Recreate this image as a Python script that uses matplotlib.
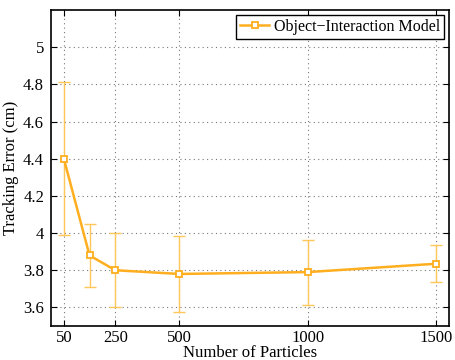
import matplotlib
matplotlib.use("Agg")
import matplotlib.pyplot as plt
from matplotlib.ticker import FuncFormatter

plt.rcParams["font.family"] = ["Liberation Serif", "DejaVu Serif"]

particles = [50, 150, 250, 500, 1000, 1500]
error_mean = [4.40, 3.88, 3.80, 3.78, 3.79, 3.835]
error_std = [0.41, 0.17, 0.20, 0.205, 0.175, 0.10]
xticks = [50, 250, 500, 1000, 1500]
yticks = [3.6, 3.8, 4.0, 4.2, 4.4, 4.6, 4.8, 5.0]

line_color = "#FFAE1F"
bar_color = "#FFC658"

fig = plt.figure(figsize=(4.55, 3.6), dpi=100)
ax = fig.add_axes([51 / 455, 34 / 360, 398 / 455, 316 / 360])

ax.errorbar(particles, error_mean, yerr=error_std, fmt="none",
            ecolor=bar_color, elinewidth=1.0, capsize=4, capthick=1.0, zorder=2)
ax.plot(particles, error_mean, color=line_color, lw=1.8, marker="s",
        markersize=4.2, markerfacecolor="white", markeredgecolor=line_color,
        markeredgewidth=1.3, label="Object\u2212Interaction Model", zorder=3)

ax.set_xlim(0, 1550)
ax.set_ylim(3.5, 5.2)
ax.set_xticks(xticks)
ax.set_yticks(yticks)
ax.yaxis.set_major_formatter(FuncFormatter(lambda v, p: f"{v:g}"))
ax.grid(True, color="#777777", linestyle=(0, (1, 3)), linewidth=0.8)
ax.tick_params(direction="in", top=True, right=True, labelsize=12, length=4,
               width=0.8, pad=5)
ax.tick_params(axis="x", pad=3)
for s in ax.spines.values():
    s.set_linewidth(1.2)

ax.set_xlabel("Number of Particles", fontsize=12, labelpad=-1)
ax.set_ylabel("Tracking Error (cm)", fontsize=12, labelpad=3)

leg = ax.legend(loc="upper right", fontsize=11.5, fancybox=False, framealpha=1,
                edgecolor="black", borderpad=0.25, handlelength=1.8,
                handletextpad=0.3, borderaxespad=0.3)
leg.get_frame().set_linewidth(1.0)

fig.savefig("out.png", dpi=100)
